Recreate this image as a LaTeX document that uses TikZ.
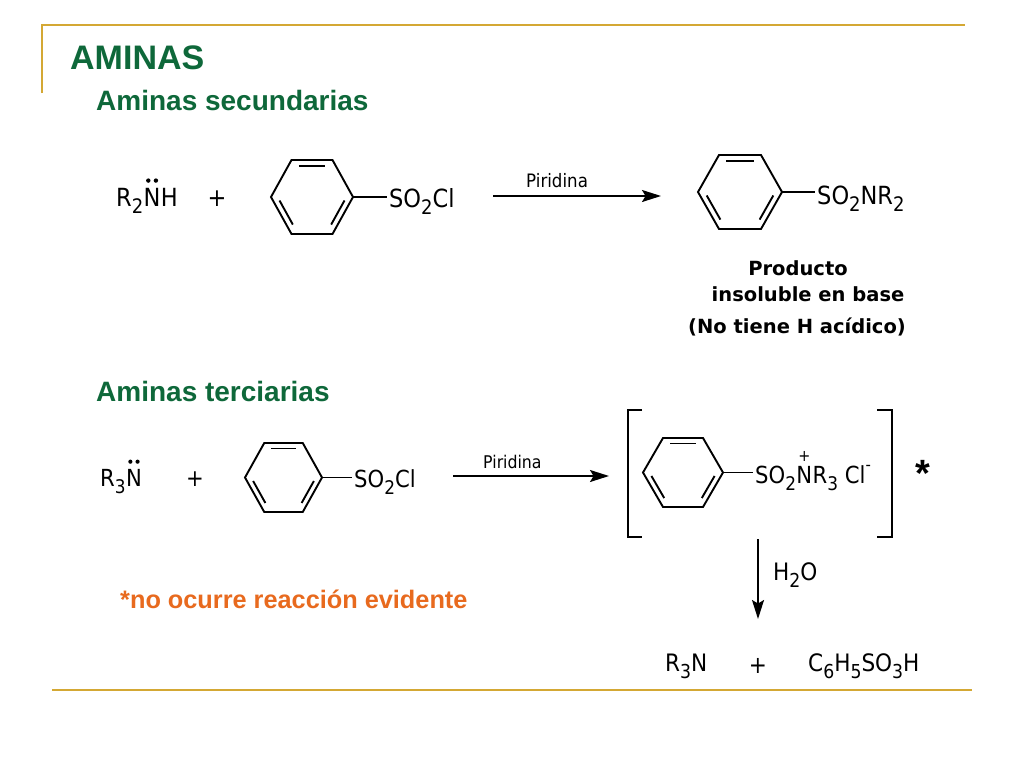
\documentclass[tikz,border=0pt]{standalone}
\usepackage{fontspec}
\setmainfont{Liberation Sans}
\newfontfamily\chemf{DejaVu Sans}[FakeStretch=0.9]
\newfontfamily\labf{DejaVu Sans}
\usepackage{graphicx}
\usetikzlibrary{arrows.meta,calc}
\definecolor{ttlgreen}{RGB}{14,104,58}
\definecolor{noteorange}{RGB}{232,106,30}
\definecolor{framegold}{RGB}{212,168,52}
\newcommand\sbx[1]{\raisebox{-0.3em}{\scalebox{0.8}{#1}}}
\newcommand\supminus{\raisebox{0.55em}{\scalebox{0.7}{-}}}
\tikzset{
  pics/benz/.style 2 args={code={
    \coordinate (-c) at (0,0);
    \coordinate (-r) at (#1,0);
    \coordinate (-l) at (-#1,0);
    \draw[bond] (-#1,0) -- ({-#1/2},-#2) -- ({#1/2},-#2) -- (#1,0) -- ({#1/2},#2) -- ({-#1/2},#2) -- cycle;
    \draw[bond,shorten <=4pt,shorten >=4pt] ({-0.84*#1/2},{-0.84*#2}) -- ({0.84*#1/2},{-0.84*#2});
    \draw[bond,shorten <=4pt,shorten >=4pt] ({-0.84*#1},0) -- ({-0.84*#1/2},{0.84*#2});
    \draw[bond,shorten <=4pt,shorten >=4pt] ({0.84*#1/2},{0.84*#2}) -- ({0.84*#1},0);
  }}
}
\begin{document}
\begin{tikzpicture}[x=1pt,y=-1pt,
  bond/.style={line width=1.9pt, line join=miter},
  rxn/.style={line width=1.7pt,-{Stealth[length=19pt,width=12pt,inset=3.5pt]}},
  chem/.style={font=\chemf\fontsize{25}{29}\selectfont, inner sep=0pt, anchor=base west},
  chems/.style={font=\chemf\fontsize{23.5}{27}\selectfont, inner sep=0pt, anchor=base west},
  chemb/.style={font=\chemf\fontsize{24}{28}\selectfont, inner sep=0pt, anchor=base west},
  cond/.style={font=\chemf\fontsize{18.5}{22}\selectfont, inner sep=0pt, anchor=base west},
  lab/.style={font=\labf\bfseries\fontsize{19.5}{22}\selectfont, inner sep=0pt, anchor=base},
  hdr/.style={font=\bfseries\fontsize{28}{32}\selectfont, text=ttlgreen, inner sep=0pt, anchor=base west},
  frame/.style={draw=framegold, line width=2.5pt},
  lp/.style={fill=black},
  brk/.style={line width=1.7pt}]
\useasboundingbox (0,0) rectangle (1024,768);
\fill[white] (0,0) rectangle (1024,768);

% frame
\draw[frame] (42,93) -- (42,25) -- (965,25);
\draw[frame] (52,690) -- (972,690);

% headings
\node[font=\bfseries\fontsize{34}{40}\selectfont, text=ttlgreen, inner sep=0pt, anchor=base west] (t0) at (70,70) {AMINAS};
\node[hdr] (t1) at (96,110) {Aminas secundarias};
\node[hdr] (t2) at (96,401) {Aminas terciarias};

% reaction 1
\node[chem] (r2) at (116,206) {R\sbx{2}};
\node[chem] (n1) at (r2.base east) {N};
\node[chem] (h1) at (n1.base east) {H};
\fill[lp] ($(n1.north)+(-3.8,-7)$) circle (2.2pt);
\fill[lp] ($(n1.north)+(3.8,-7)$) circle (2.2pt);
\node[chem, anchor=center] (p1) at (217,199) {+};
\pic (b1) at (312,197) {benz={41}{37}};
\node[chem] (s1) at (389,207) {SO\sbx{2}Cl};
\draw[bond,shorten >=2pt] (b1-r) -- (b1-r -| s1.west);
\coordinate (a1s) at (493,196);
\coordinate (a1e) at (661,196);
\draw[rxn] (a1s) -- (a1e);
\node[cond] (pir1) at (526,187) {Piridina};
\pic (b2) at (740,192) {benz={42}{37}};
\node[chem] (s2) at (817,204) {SO\sbx{2}NR\sbx{2}};
\draw[bond,shorten >=2pt] (b2-r) -- (b2-r -| s2.west);
\node[lab] (l1) at (798,275) {Producto};
\node[lab] (l2) at (808,301) {insoluble en base};
\node[lab] (l3) at (797,333) {(No tiene H acídico)};

% reaction 2
\node[chems] (r3) at (100,486) {R\sbx{3}};
\node[chems] (n2) at (r3.base east) {N};
\fill[lp] ($(n2.north)+(-3.6,-7)$) circle (2.1pt);
\fill[lp] ($(n2.north)+(3.6,-7)$) circle (2.1pt);
\node[chems, anchor=center] (p2) at (195,479) {+};
\pic (b3) at (283.5,477.5) {benz={38.5}{34.5}};
\node[chems] (s3) at (354,487) {SO\sbx{2}Cl};
\draw[bond,shorten >=2pt] (b3-r) -- (b3-r -| s3.west);
\coordinate (a2s) at (453,476);
\coordinate (a2e) at (609,476);
\draw[rxn] (a2s) -- (a2e);
\node[cond, font=\chemf\fontsize{17.5}{21}\selectfont] (pir2) at (483,468) {Piridina};

% bracket and intermediate
\draw[brk] (642,410) -- (628,410) -- (628,537) -- (642,537);
\draw[brk] (877,410) -- (892,410) -- (892,537) -- (877,537);
\pic (b4) at (683,472.5) {benz={40}{34.5}};
\node[chems] (s4a) at (755,483) {SO\sbx{2}};
\node[chems] (s4n) at (s4a.base east) {N};
\node[chems] (s4b) at (s4n.base east) {R\sbx{3} Cl\supminus};
\draw[bond,shorten >=2pt] (b4-r) -- (b4-r -| s4a.west);
\node[font=\chemf\fontsize{16}{18}\selectfont, inner sep=0pt, anchor=south] (pl) at ($(s4n.north)+(0,-3.5)$) {+};
\node[font=\bfseries\fontsize{38}{42}\selectfont, inner sep=0pt, anchor=north] (star) at (923,460) {*};

% hydrolysis
\coordinate (d1) at (758,539);
\coordinate (d2) at (758,619);
\draw[rxn] (d1) -- (d2);
\node[chemb] (w) at (773,580) {H\sbx{2}O};
\node[chemb] (pr1) at (665,671) {R\sbx{3}N};
\node[chemb, anchor=center] (p3) at (758,666) {+};
\node[chemb] (pr2) at (808,671) {C\sbx{6}H\sbx{5}SO\sbx{3}H};

% note
\node[font=\bfseries\fontsize{25.3}{29}\selectfont, text=noteorange, inner sep=0pt, anchor=base west] (note) at (120,608) {*no ocurre reacción evidente};
\end{tikzpicture}
\end{document}
